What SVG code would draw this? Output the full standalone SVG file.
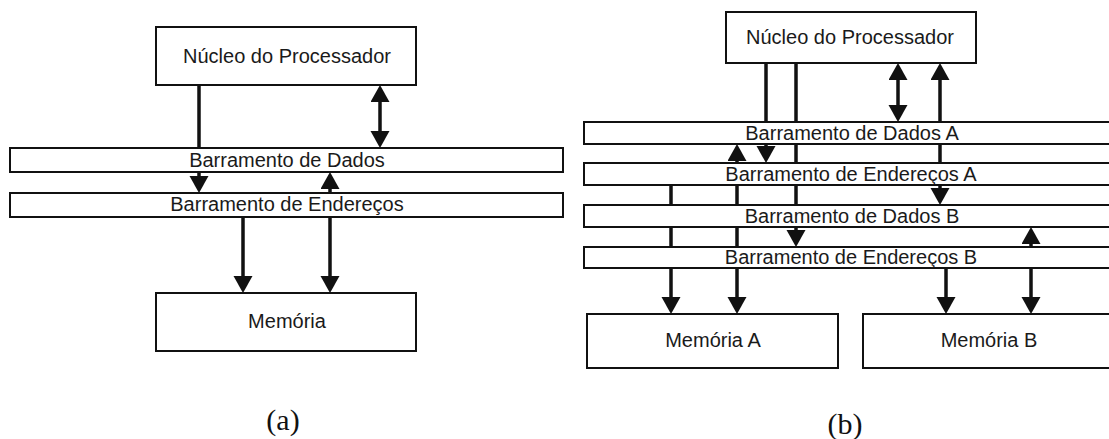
<svg xmlns="http://www.w3.org/2000/svg" width="1109" height="439" viewBox="0 0 1109 439">
  <defs>
    <style>
      .box { fill: #ffffff; stroke: #111111; stroke-width: 2; }
      .bus { fill: #ffffff; stroke: #111111; stroke-width: 2; }
      .lbl { font-family: "Liberation Sans", Arial, sans-serif; font-size: 20px; fill: #1a1a1a; text-anchor: middle; }
      .cap { font-family: "Liberation Serif", "Times New Roman", serif; font-size: 30px; fill: #111111; text-anchor: middle; }
      .wire { stroke: #111111; stroke-width: 3.5; fill: none; }
      .one { marker-end: url(#head); }
      .two { marker-start: url(#head); marker-end: url(#head); }
    </style>
    <marker id="head" markerUnits="userSpaceOnUse" markerWidth="18" markerHeight="20" refX="0" refY="9.5" orient="auto-start-reverse" viewBox="0 0 18 20">
      <path d="M0,0 L17,9.5 L0,19 Z" fill="#111111"/>
    </marker>
  </defs>

  <rect width="1109" height="439" fill="#ffffff"/>

  <!-- connectors (drawn first so the buses pass over them) -->
  <g id="connectors">
    <!-- (a) -->
    <line class="wire one" x1="199" y1="85" x2="199" y2="176"/>
    <line class="wire two" x1="380" y1="102" x2="380" y2="131"/>
    <line class="wire two" x1="330" y1="276" x2="330" y2="189"/>
    <line class="wire one" x1="243" y1="205" x2="243" y2="276"/>
    <!-- (b) -->
    <line class="wire one" x1="766" y1="63" x2="766" y2="146"/>
    <line class="wire one" x1="796" y1="63" x2="796" y2="230"/>
    <line class="wire two" x1="898" y1="80" x2="898" y2="105"/>
    <line class="wire two" x1="940" y1="80" x2="940" y2="188"/>
    <line class="wire two" x1="737" y1="297" x2="737" y2="161"/>
    <line class="wire one" x1="671" y1="175" x2="671" y2="297"/>
    <line class="wire one" x1="946" y1="258" x2="946" y2="297"/>
    <line class="wire two" x1="1031" y1="297" x2="1031" y2="244"/>
  </g>

  <!-- (a) single bus pair -->
  <g id="a-processador">
    <rect class="box" x="156" y="27" width="260" height="58"/>
    <text class="lbl" x="287" y="63">Núcleo do Processador</text>
  </g>
  <g id="a-dados">
    <rect class="bus" x="10" y="148" width="553" height="24"/>
    <text class="lbl" x="287" y="167">Barramento de Dados</text>
  </g>
  <g id="a-enderecos">
    <rect class="bus" x="10" y="193" width="553" height="24"/>
    <text class="lbl" x="287" y="211">Barramento de Endereços</text>
  </g>
  <g id="a-memoria">
    <rect class="box" x="156" y="293" width="260" height="58"/>
    <text class="lbl" x="287" y="328">Memória</text>
  </g>
  <text class="cap" x="283" y="430">(a)</text>

  <!-- (b) two bus pairs -->
  <g id="b-processador">
    <rect class="box" x="726" y="12" width="250" height="51"/>
    <text class="lbl" x="850" y="44">Núcleo do Processador</text>
  </g>
  <g id="b-dados-a">
    <rect class="bus" x="584" y="122" width="540" height="22"/>
    <text class="lbl" x="852" y="140">Barramento de Dados A</text>
  </g>
  <g id="b-enderecos-a">
    <rect class="bus" x="584" y="163" width="540" height="22"/>
    <text class="lbl" x="851" y="181">Barramento de Endereços A</text>
  </g>
  <g id="b-dados-b">
    <rect class="bus" x="584" y="205" width="540" height="22"/>
    <text class="lbl" x="852" y="223">Barramento de Dados B</text>
  </g>
  <g id="b-enderecos-b">
    <rect class="bus" x="584" y="247" width="540" height="21"/>
    <text class="lbl" x="851" y="264">Barramento de Endereços B</text>
  </g>
  <g id="b-memoria-a">
    <rect class="box" x="587" y="314" width="251" height="54"/>
    <text class="lbl" x="713" y="347">Memória A</text>
  </g>
  <g id="b-memoria-b">
    <rect class="box" x="863" y="314" width="260" height="54"/>
    <text class="lbl" x="989" y="347">Memória B</text>
  </g>
  <text class="cap" x="845" y="434">(b)</text>
</svg>
